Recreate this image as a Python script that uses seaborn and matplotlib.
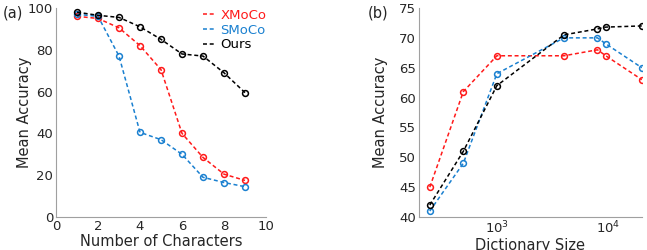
import numpy as np
import pandas as pd
import matplotlib
matplotlib.use("Agg")
import matplotlib.pyplot as plt
import seaborn as sns

# panel (a): accuracy vs number of characters
n_chars = [1, 2, 3, 4, 5, 6, 7, 8, 9]
xmoco_a = [96, 95, 90.5, 82, 70.5, 40, 28.5, 20.5, 17.5]
smoco_a = [97, 96, 77, 40.5, 37, 30, 19, 16.5, 14.5]
ours_a = [98, 96.5, 95.5, 91, 85, 78, 77, 69, 59.5]

# panel (b): accuracy vs dictionary size
dict_size = [250, 500, 1000, 4000, 8000, 9500, 20000]
xmoco_b = [45, 61, 67, 67, 68, 67, 63]
smoco_b = [41, 49, 64, 70, 70, 69, 65]
ours_b = [42, 51, 62, 70.5, 71.5, 71.8, 72]

methods = ["XMoCo", "SMoCo", "Ours"]
colors = {"XMoCo": "#ff1a1a", "SMoCo": "#1a80d0", "Ours": "#000000"}

sns.set_style("white")
plt.rcParams["font.family"] = ["DejaVu Sans"]

fig = plt.figure(figsize=(6.47, 2.5), dpi=100)
ax1 = fig.add_axes([0.0866, 0.132, 0.3245, 0.836])
ax2 = fig.add_axes([0.6476, 0.132, 0.3444, 0.836])

data_a = {"XMoCo": xmoco_a, "SMoCo": smoco_a, "Ours": ours_a}
data_b = {"XMoCo": xmoco_b, "SMoCo": smoco_b, "Ours": ours_b}

style = dict(linestyle=(0, (2.6, 1.8)), marker="o", markersize=4.2,
             markerfacecolor="none", markeredgewidth=1.1, linewidth=1.1)

for m in methods:
    sns.lineplot(x=n_chars, y=data_a[m], ax=ax1, color=colors[m],
                 markeredgecolor=colors[m], label=m, **style)
    sns.lineplot(x=dict_size, y=data_b[m], ax=ax2, color=colors[m],
                 markeredgecolor=colors[m], legend=False, **style)

ax1.set_xlim(0, 10)
ax1.set_ylim(0, 100)
ax1.set_xticks([0, 2, 4, 6, 8, 10])
ax1.set_yticks([0, 20, 40, 60, 80, 100])
ax1.set_xlabel("Number of Characters", fontsize=10.5, color="#262626", labelpad=1)
ax1.set_ylabel("Mean Accuracy", fontsize=10.5, color="#262626", labelpad=-3)

ax2.set_xscale("log")
ax2.set_xlim(200, 20000)
ax2.set_ylim(40, 75)
ax2.set_yticks([40, 45, 50, 55, 60, 65, 70, 75])
ax2.set_xlabel("Dictionary Size", fontsize=10.5, color="#262626", labelpad=1)
ax2.set_ylabel("Mean Accuracy", fontsize=10.5, color="#262626", labelpad=8)

for ax in (ax1, ax2):
    for s in ("top", "right"):
        ax.spines[s].set_visible(False)
    for s in ("left", "bottom"):
        ax.spines[s].set_color("#a0a0a0")
        ax.spines[s].set_linewidth(0.8)
    ax.tick_params(axis="both", which="major", direction="in", length=3, width=0.6,
                   color="#707070", labelsize=9.5, labelcolor="#262626", pad=2)
    ax.tick_params(axis="both", which="minor", direction="in", length=2, width=0.5,
                   color="#707070")
    ax.grid(False)

leg = ax1.legend(loc="upper left", frameon=False, fontsize=9.5, handlelength=0.8,
                 handletextpad=0.5, borderaxespad=0, borderpad=0, labelspacing=0.12,
                 bbox_to_anchor=(0.70, 0.995))
for line, text in zip(leg.get_lines(), leg.get_texts()):
    line.set_marker("")
    text.set_color(line.get_color())

fig.text(0.005, 0.95, "(a)", fontsize=10.5, color="#262626", va="center")
fig.text(0.568, 0.95, "(b)", fontsize=10.5, color="#262626", va="center")

fig.savefig("out.png", dpi=100)
